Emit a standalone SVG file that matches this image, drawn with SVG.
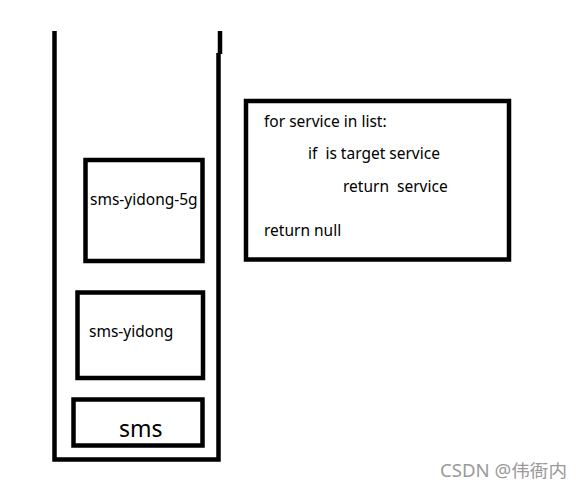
<svg xmlns="http://www.w3.org/2000/svg" width="582" height="491" viewBox="0 0 582 491">
<style>
.box{fill:none;stroke:#000;stroke-width:4.5}
.wall{fill:none;stroke:#000;stroke-width:4.5}
.t{font-family:"Noto Sans","Open Sans",sans-serif;font-size:15.5px;fill:#000}
.big{font-size:23px}
.wm{font-family:"Noto Sans","Noto Sans CJK SC",sans-serif;font-size:17.5px;fill:#9a9a9a}
</style>
<rect width="582" height="491" fill="#fff"/>
<g id="stack">
<path class="wall" d="M54.5 31 V459.5 H218.5 V53"/>
<path class="wall" d="M220 31 V54"/>
</g>
<g id="sms-yidong-5g">
<rect class="box" x="85.5" y="160" width="117" height="101"/>
<text class="t" x="90" y="205">sms-yidong-5g</text>
</g>
<g id="sms-yidong">
<rect class="box" x="77.5" y="292.5" width="125.5" height="85.5"/>
<text class="t" x="89" y="336.5">sms-yidong</text>
</g>
<g id="sms">
<rect class="box" x="73.5" y="399.5" width="129" height="46"/>
<text class="t big" x="119" y="437">sms</text>
</g>
<g id="code">
<rect class="box" x="246" y="101" width="263" height="158.5"/>
<text class="t" x="264" y="127">for service in list:</text>
<text class="t" x="308" y="159" xml:space="preserve">if  is target service</text>
<text class="t" x="343" y="192" xml:space="preserve">return  service</text>
<text class="t" x="264" y="236">return null</text>
</g>
<g id="connectors"/>
<text class="wm" x="440" y="477" textLength="127" lengthAdjust="spacingAndGlyphs">CSDN @伟衙内</text>
</svg>
